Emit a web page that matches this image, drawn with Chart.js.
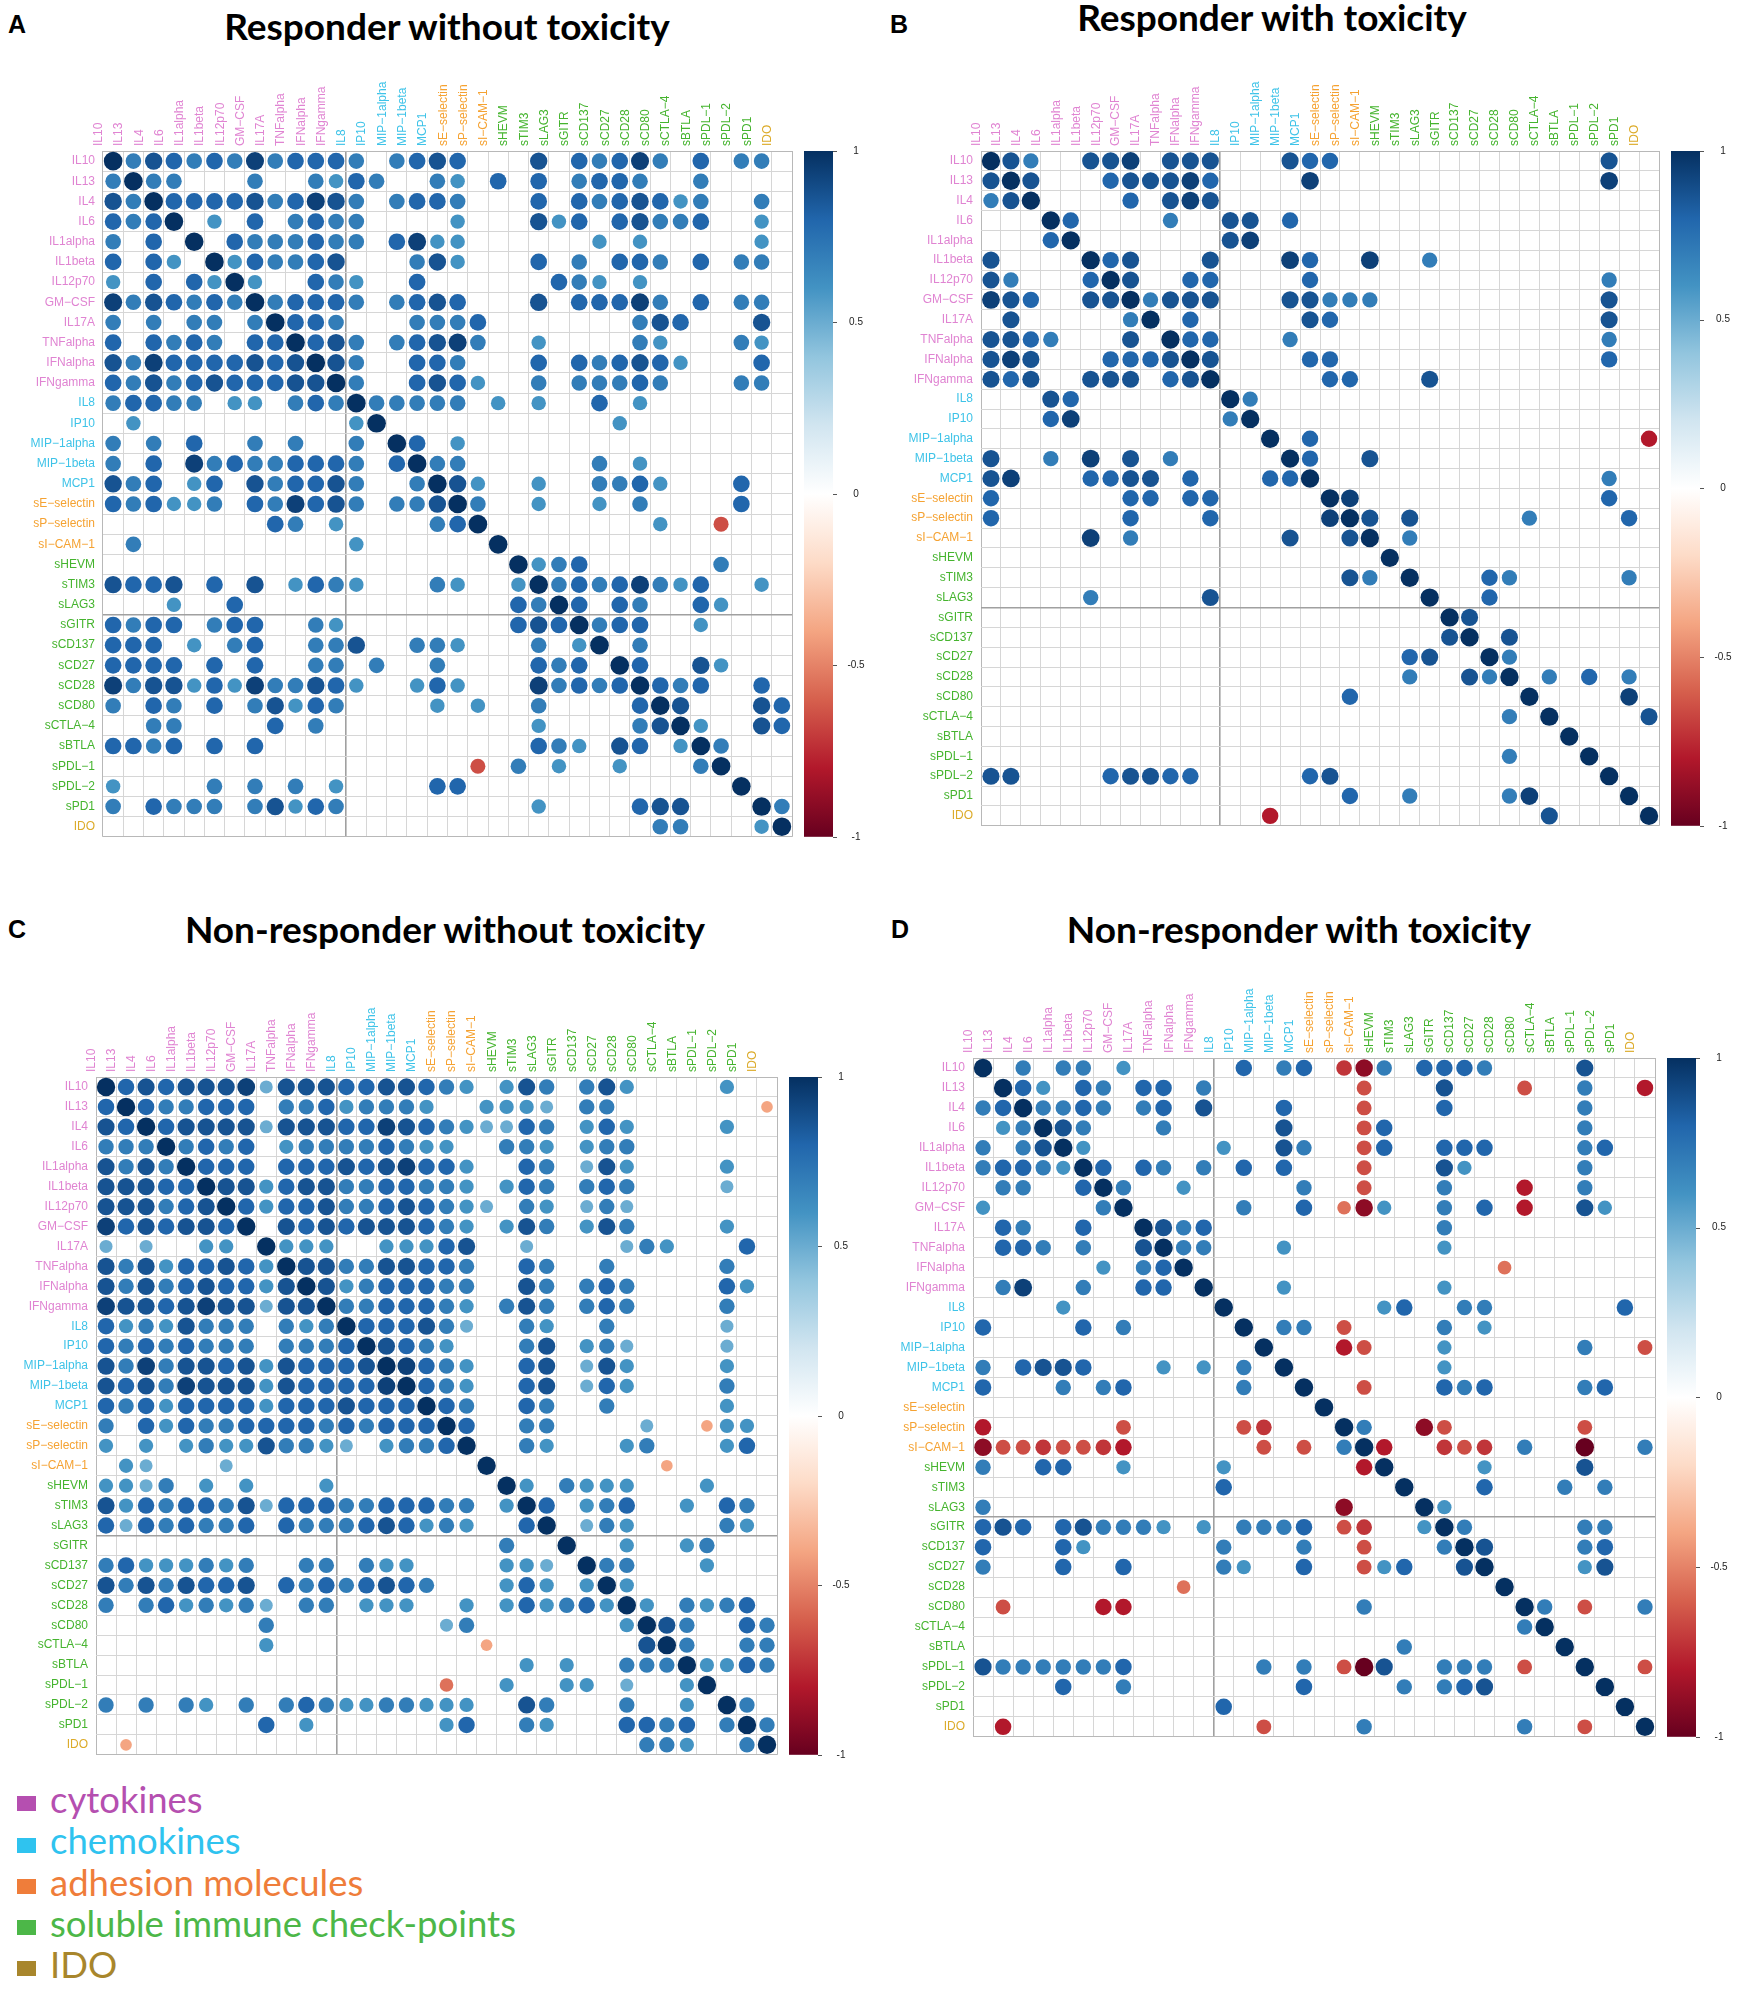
<!DOCTYPE html>
<html lang="en">
<head>
<meta charset="UTF-8">
<title>Correlation matrices by response and toxicity</title>
<script src="https://cdn.jsdelivr.net/npm/chart.js@4"></script>
<style>
  body { margin: 0; width: 1742px; height: 1990px; background: #fff; position: relative; overflow: hidden; font-family: 'Liberation Sans', Arial, sans-serif; }
  canvas { position: absolute; }
  .title { position: absolute; font-family: Lato, 'Liberation Sans', sans-serif; font-weight: bold; font-size: 37px; transform: translate(-50%, -50%); white-space: nowrap; }
  .letter { position: absolute; font-weight: bold; font-size: 25px; transform: translateY(-50%); }
  .legend { position: absolute; left: 17px; top: 1779px; font-family: Lato, sans-serif; font-size: 36.5px; line-height: 41.3px; }
  .legend .sq { display: inline-block; width: 19px; height: 15px; margin-right: 14px; vertical-align: middle; }
</style>
</head>
<body>
<div class="letter" style="left:8px;top:24px">A</div>
<div class="title" style="left:447px;top:25px">Responder without toxicity</div>
<div class="letter" style="left:890px;top:24px">B</div>
<div class="title" style="left:1272px;top:16px">Responder with toxicity</div>
<div class="letter" style="left:8px;top:929px">C</div>
<div class="title" style="left:445px;top:928px">Non-responder without toxicity</div>
<div class="letter" style="left:891px;top:929px">D</div>
<div class="title" style="left:1299px;top:928px">Non-responder with toxicity</div>

<canvas id="cA"></canvas>
<canvas id="cB"></canvas>
<canvas id="cC"></canvas>
<canvas id="cD"></canvas>

<div class="legend" id="legend"></div>

<script>
  // variables, in matrix order
  const vars = ['IL10', 'IL13', 'IL4', 'IL6', 'IL1alpha', 'IL1beta', 'IL12p70', 'GM\u2212CSF', 'IL17A', 'TNFalpha', 'IFNalpha', 'IFNgamma',
    'IL8', 'IP10', 'MIP\u22121alpha', 'MIP\u22121beta', 'MCP1',
    'sE\u2212selectin', 'sP\u2212selectin', 'sI\u2212CAM\u22121',
    'sHEVM', 'sTIM3', 'sLAG3', 'sGITR', 'sCD137', 'sCD27', 'sCD28', 'sCD80', 'sCTLA\u22124', 'sBTLA', 'sPDL\u22121', 'sPDL\u22122', 'sPD1',
    'IDO'];
  const varGroup = [0,0,0,0,0,0,0,0,0,0,0,0, 1,1,1,1,1, 2,2,2, 3,3,3,3,3,3,3,3,3,3,3,3,3, 4];
  const groupNames = ['cytokines', 'chemokines', 'adhesion molecules', 'soluble immune check-points', 'IDO'];
  const labelColors = ['#e084d2', '#3ec3e8', '#f5a232', '#45b42e', '#dcab2a'];
  const legendColors = ['#b54fb0', '#2fc3ef', '#ef7d3a', '#4cb748', '#a8862c'];
  const cbTicks = [1, 0.5, 0, -0.5, -1];

  // one character per cell: '.' not shown, digits/X positive, letters negative
  const levels = { '4': 0.5, '5': 0.6, '6': 0.7, '7': 0.8, '8': 0.87, '9': 0.94, 'X': 1,
    'd': -0.4, 'e': -0.55, 'f': -0.65, 'g': -0.72, 'h': -0.8, 'i': -0.9, 'j': -1 };

  const respNoTox = [
    "X6876 76967 776.6 787.. .8.76 796.7 .66.",
    "6X66. ..6.. 6576. .65.7 .7.67 76..6 ....",
    "86X77 77867 986.6 776.. .7.76 78756 ..6.",
    "767X. 5.7.6 766.. ..5.. .857. 78667 ..5.",
    "6.7.X .7666 766.7 955.. ....5 .5... ..5.",
    "7.75. X5766 78... 685.. .7.6. 776.7 .66.",
    "5.7.7 5X5.. 765.. 7.... ..765 .5... ....",
    "96876 76X67 776.6 787.. .8.77 796.7 .66.",
    "6.6.6 6.6X7 76... 6667. ..... .687. ..8.",
    "7.767 6.77X 786.6 7896. .5... .65.. .65.",
    "86977 77878 X86.. 776.. .7.76 7875. ..7.",
    "76867 87778 8X6.. 7875. .6.66 676.. .66.",
    "67766 .55.6 76X66 666.5 .5..7 .5... ....",
    ".5... ..... ..5X. ..... ..... 5.... ....",
    "6.6.7 ..6.6 ..6.X 7.5.. ..... ..... ....",
    "6.7.9 67667 776.7 X66.. ....6 .5... ....",
    "867.5 7.867 786.. 6X85. .5..6 675.. .7..",
    "76755 6.769 786.6 68X6. .5..5 .6... .7..",
    "..... ...76 .5... .67X. ..... ..5.. f...",
    ".6... ..... ..5.. ....X ..... ..... ....",
    "..... ..... ..... ..... X567. ..... 6...",
    "8778. 7.8.5 765.. .65.. 5X676 79657 ..5.",
    "...5. .7... ..... ..... 76X7. 76..7 5...",
    "7677. 677.. 65... ..... 787X6 77..5 ....",
    "777.5 .67.. 668.. 665.. .6.5X .6... ....",
    "7777. 7.7.. 66.6. .6... .767. X7..8 5...",
    "96885 75966 875.. 575.. .9676 7X767 ..7.",
    "6.76. 7.685 76... .5.5. .6... .7X8. ..87",
    "..66. ...7. 6.... ..... .5... .68X5 ..87",
    "7767. 7.7.. ..... ..... .765. 87.5X 6...",
    "..... ..... ..... ...f. 6.5.. 5...6 X...",
    "5.... 6.6.6 .5... .77.. ..... ..... .X..",
    "6.766 6.685 76... ..... .5... .788. ..X6",
    "..... ..... ..... ..... ..... ..66. ..5X"
  ];

  const respTox = [
    "X86.. 889.8 88... 877.. ..... ..... .8..",
    "8X8.. .7888 97... .9... ..... ..... .9..",
    "68X.. ..7.8 98... ..... ..... ..... ....",
    "...X7 ....6 ..88. 7.... ..... ..... ....",
    "...7X ..... ..89. ..... ..... ..... ....",
    "8.... X78.. .8... 97..9 ..6.. ..... ....",
    "86... 7X8.. 77... .7... ..... ..... .6..",
    "987.. 88X68 88... 88666 ..... ..... .8..",
    ".8... ..6X. 7.... .87.. ..... ..... .8..",
    "8876. ..8.X 77... 6.... ..... ..... .6..",
    "898.. .7778 X8... .77.. ..... ..... .7..",
    "878.. 888.7 8X... ..77. ..8.. ..... ....",
    "...87 ..... ..X6. ..... ..... ..... ....",
    "...79 ..... ..6X. ..... ..... ..... ....",
    "..... ..... ....X .7... ..... ..... ...h",
    "8..6. 9.8.6 ..... X7..8 ..... ..... ....",
    "89... 7788. 7...7 7X... ..... ..... .6..",
    "7.... ..77. 77... ..X9. ..... ..... .7..",
    "7.... ..7.. .7... ..9X8 .8... ..6.. ..7.",
    "..... 9.6.. ..... 8..8X .6... ..... ....",
    "..... ..... ..... ..... X.... ..... ....",
    "..... ..... ..... ...86 .X... 76... ..6.",
    "..... 6.... .8... ..... ..X.. 7.... ....",
    "..... ..... ..... ..... ...X8 ..... ....",
    "..... ..... ..... ..... ...8X .8... ....",
    "..... ..... ..... ..... .78.. X6... ....",
    "..... ..... ..... ..... .6..8 6X.6. 7.6.",
    "..... ..... ..... ...7. ..... ..X.. ..9.",
    "..... ..... ..... ..... ..... .6.X. ...8",
    "..... ..... ..... ..... ..... ....X ....",
    "..... ..... ..... ..... ..... .6... X...",
    "88... .7887 7.... .78.. ..... ..... .X..",
    "..... ..... ..... ...7. .6... .69.. ..X.",
    "..... ..... ....h ..... ..... ...8. ...X"
  ];

  const nonRespNoTox = [
    "X7878 88948 88778 8765. 586.6 85... .5..",
    "7X766 777.6 67566 65..5 554.6 6.... ...d",
    "87X78 88848 88779 87654 476.5 75... .5..",
    "666X6 767.5 66667 655.. 665.5 66... ....",
    "8686X 777.7 77878 9775. .76.4 85... .5..",
    "88877 X8857 88667 7665. 576.6 76... .4..",
    "88867 8X757 78667 87654 .65.4 64... ....",
    "97878 87X.8 78788 8765. 586.5 86... .5..",
    "4.4.. 55.X5 55..5 5578. .4... .465. ..7.",
    "86857 7875X 88668 8776. .76.. 6.... .6..",
    "86867 87758 X8567 7766. .86.6 76... .75.",
    "98878 98848 8X667 7765. 686.6 76... .6..",
    "75658 666.6 56X77 7864. .65.. 6.... .4..",
    "76767 666.6 667X8 765.. .68.5 64... .4..",
    "86968 87858 7778X 9765. .78.4 85... .5..",
    "87869 88858 77779 X765. .78.4 75... .6..",
    "76757 77757 77877 7X76. .76.. 6.... .5..",
    "6.757 66777 76767 77X7. .66.. ..4.. d55.",
    "5.5.5 65586 654.5 667X. .65.. .56.. .57.",
    ".54.. .4... ..... ....X ..... ...d. ....",
    "5546. 5.5.. .5... ..... X5.65 55... 5...",
    "85767 76847 77667 7766. 5X7.5 67..5 .76.",
    "74767 667.7 66678 7565. .7X.4 65... .65.",
    "..... ..... ..... ..... 6..X. .5..5 6...",
    "67555 656.. 66.65 5.... 554.X 66... 5...",
    "86868 778.7 67678 76... 575.5 X5... ....",
    "6.675 6564. 66.55 5..5. 57567 5X5.6 567.",
    "..... ...6. ..... ..46. ..... .5X86 ..76",
    "..... ...5. ..... ....d ..... ..8X6 ..66",
    "..... ..... ..... ..... .5.5. .666X 5576",
    "..... ..... ..... ..e.. 5..55 .4..5 X...",
    "6.6.6 5.6.6 76556 6555. .86.. .6..5 .X6.",
    "..... ...7. 5.... ..57. .65.. .7767 .6X6",
    ".d... ..... ..... ..... ..... ..665 ..6X"
  ];

  const nonRespTox = [
    "X.6.6 6.5.. ...7. 67.gi 6.777 6.... 8...",
    ".X75. 76.77 .6... ....f ...8. ..f.. 6..h",
    "67X66 76.67 .8... 7...f ...7. ..... 6...",
    ".56X8 6...6 ..... 8...f 7.... ..... 6...",
    "6.68X 5.... ..5.. 86..f 7..77 7.... 67..",
    "67765 X7.76 .6.7. 7...f ...85 ..... 6...",
    ".66.. 7X6.. 5.... .6..f ...6. ..h.. 6...",
    "5.... .6X.. ...6. .7.ei 5..6. 7.h.. 85..",
    ".76.. 7..X8 67... ..... ...6. ..... ....",
    ".776. 6..8X 66... 5.... ...5. ..... ....",
    "..... .5.67 X.... ..... ..... .e... ....",
    ".69.. 6..77 .X... 5.... ...5. ..... ....",
    "....5 ..... ..X.. ..... 57..6 6.... ..7.",
    "7.... 7.6.. ...X. 66.f. ...6. 5.... ....",
    "..... ..... ....X ...hf ...5. ..... 6..f",
    "6.788 7...5 .5.6. X.... ...5. ..... ....",
    "7...6 .67.. ...6. .X..f ...76 7.... 67..",
    "..... ..... ..... ..X.. ..... ..... ....",
    "h.... ..f.. ...fg ...X6 ..if. ..... f...",
    "iffgf fgh.. ....f .f.6X h..gf g.6.. j..6",
    "6..77 ..5.. ..5.. ....h X.... 5.... 8...",
    "..... ..... ..7.. ..... .X... 7...6 .6..",
    "6.... ..... ..... ...i. ..X5. ..... ....",
    "787.7 86665 .5.66 67.fg ..5X6 ..... 66..",
    "7...7 5.... ..6.. .6..f ...6X 8.... 67..",
    "6...7 ..7.. ..65. .7..f 57..8 X.... 58..",
    "..... ..... e.... ..... ..... .X... ....",
    ".f... .hh.. ..... ....6 ..... ..X6. f..6",
    "..... ..... ..... ..... ..... ..6X. ....",
    "..... ..... ..... ..... .6... ....X ....",
    "86666 667.. ....6 .6.fj 8..66 6.f.. X..f",
    "....7 ..6.. ..... .7... .6.67 8.... .X..",
    "..... ..... ..7.. ..... ..... ..... ..X.",
    ".h... ..... ....f ....6 ..... ..6.. f..X"
  ];

  // corrplot-style RdBu ramp from -1 to 1
  const rdbu = ['#67001F', '#B2182B', '#D6604D', '#F4A582', '#FDDBC7', '#FFFFFF', '#D1E5F0', '#92C5DE', '#4393C3', '#2166AC', '#053061'];

  function hexRgb(h) {
    return [parseInt(h.slice(1, 3), 16), parseInt(h.slice(3, 5), 16), parseInt(h.slice(5, 7), 16)];
  }

  function corrColor(v) {
    const t = (v + 1) / 2 * 10;
    const i = Math.max(0, Math.min(9, Math.floor(t)));
    const f = t - i;
    const a = hexRgb(rdbu[i]), b = hexRgb(rdbu[i + 1]);
    const c = a.map((x, k) => Math.round(x + (b[k] - x) * f));
    return `rgb(${c[0]},${c[1]},${c[2]})`;
  }

  function buildPoints(rows, cell) {
    const pts = [];
    rows.forEach((row, i) => {
      const cells = row.replace(/ /g, '');
      for (let j = 0; j < cells.length; j++) {
        const v = levels[cells[j]];
        if (v === undefined) continue;
        pts.push({ x: vars[j], y: vars[i], v: v, r: cell * 0.46 * Math.sqrt(Math.abs(v)) });
      }
    });
    return pts;
  }

  // colour key drawn to the right of each matrix
  const colorBar = {
    id: 'colorBar',
    afterDraw(chart) {
      const { ctx, chartArea } = chart;
      const x0 = chartArea.right + 12, w = 29;
      const top = chartArea.top, bottom = chartArea.bottom;
      const grad = ctx.createLinearGradient(0, bottom, 0, top);
      rdbu.forEach((c, k) => grad.addColorStop(k / 10, c));
      ctx.save();
      ctx.fillStyle = grad;
      ctx.fillRect(x0, top, w, bottom - top);
      ctx.strokeStyle = '#555';
      ctx.lineWidth = 1;
      ctx.fillStyle = '#222';
      ctx.font = '10px "Liberation Sans", Arial, sans-serif';
      ctx.textAlign = 'center';
      ctx.textBaseline = 'middle';
      cbTicks.forEach(t => {
        const y = bottom - (t + 1) / 2 * (bottom - top);
        ctx.beginPath();
        ctx.moveTo(x0 + w, Math.round(y) + 0.5);
        ctx.lineTo(x0 + w + 4, Math.round(y) + 0.5);
        ctx.stroke();
        ctx.fillText(String(t), x0 + w + 23, y);
      });
      ctx.restore();
    }
  };

  Chart.defaults.font.family = "'Liberation Sans', Arial, sans-serif";

  function gridStyle(special) {
    return {
      offset: true,
      drawTicks: false,
      color: c => (c.index === undefined || c.index === 0) ? '#b8b8b8' : (c.index === special ? '#a0a0a0' : '#d6d6d6'),
      lineWidth: c => (c.index === special ? 1.6 : 1)
    };
  }

  const panels = [
    { id: 'cA', rows: respNoTox, gx: 103, gy: 151, size: 689, cl: 0 },
    { id: 'cB', rows: respTox, gx: 981, gy: 151, size: 678, cl: 871 },
    { id: 'cC', rows: nonRespNoTox, gx: 96, gy: 1077, size: 681, cl: 0 },
    { id: 'cD', rows: nonRespTox, gx: 973, gy: 1058, size: 682, cl: 871 }
  ];

  panels.forEach(p => {
    const axisH = 100, cw = 871, ch = axisH + p.size + 12;
    const canvas = document.getElementById(p.id);
    canvas.width = cw; canvas.height = ch;
    canvas.style.left = p.cl + 'px';
    canvas.style.top = (p.gy - axisH) + 'px';
    canvas.style.width = cw + 'px';
    canvas.style.height = ch + 'px';
    const cell = p.size / vars.length;

    new Chart(canvas, {
      type: 'bubble',
      data: {
        datasets: [{
          data: buildPoints(p.rows, cell),
          backgroundColor: c => corrColor(c.raw.v),
          borderWidth: 0,
          clip: false
        }]
      },
      options: {
        responsive: false,
        animation: false,
        events: [],
        layout: { padding: { left: 0, top: 0, right: p.cl + cw - (p.gx + p.size), bottom: 12 } },
        plugins: { legend: { display: false }, tooltip: { enabled: false } },
        scales: {
          x: {
            type: 'category', position: 'top', labels: vars, offset: true,
            grid: gridStyle(12),
            border: { display: false },
            ticks: { autoSkip: false, minRotation: 90, maxRotation: 90, padding: 5,
              font: { size: 12 }, color: c => labelColors[varGroup[c.index]] },
            afterFit: s => { s.height = axisH; }
          },
          y: {
            type: 'category', labels: vars, offset: true,
            grid: gridStyle(23),
            border: { display: false },
            ticks: { autoSkip: false, padding: 8, font: { size: 12 },
              color: c => labelColors[varGroup[c.index]] },
            afterFit: s => { s.width = p.gx - p.cl; }
          }
        }
      },
      plugins: [colorBar]
    });
  });

  // group legend at the bottom left
  const legend = document.getElementById('legend');
  groupNames.forEach((name, k) => {
    const line = document.createElement('div');
    line.innerHTML = `<span class="sq" style="background:${legendColors[k]}"></span>` +
      `<span style="color:${legendColors[k]}">${name}</span>`;
    legend.appendChild(line);
  });
</script>
</body>
</html>
